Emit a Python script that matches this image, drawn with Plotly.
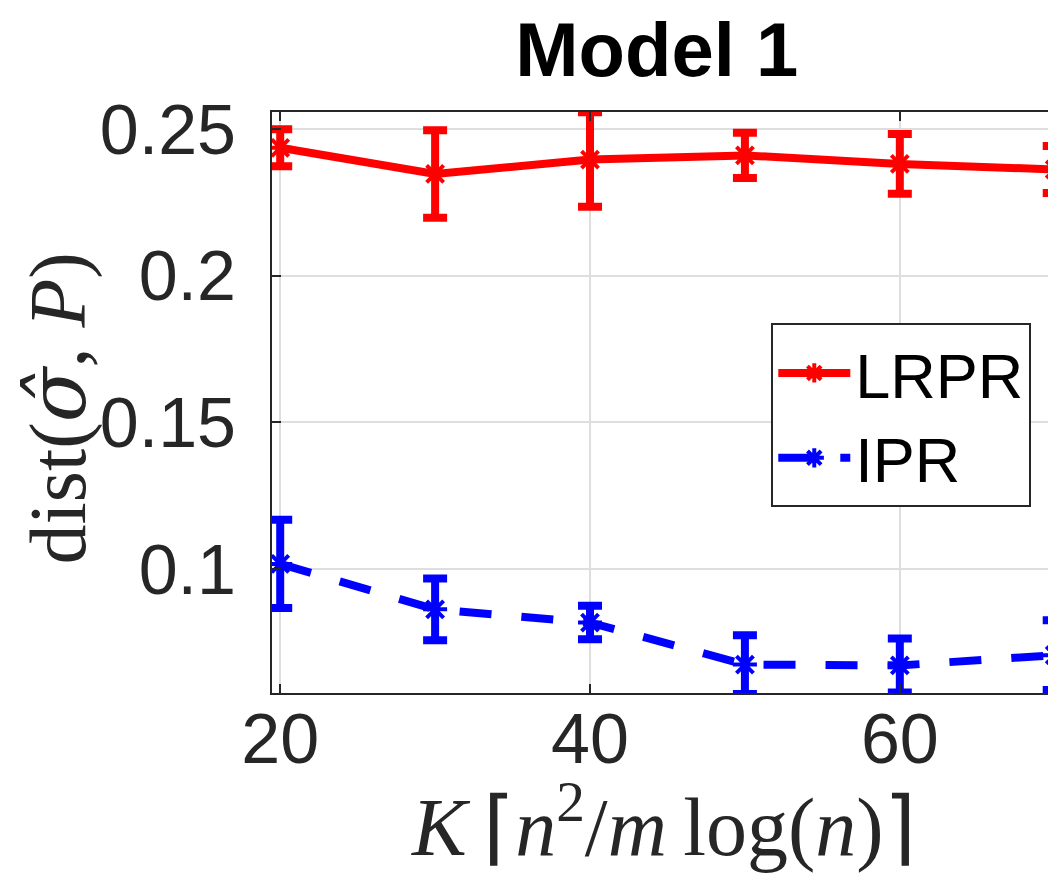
import plotly.graph_objects as go

# values
K = [20, 30, 40, 50, 60, 70]

lrpr_mean = [0.2436, 0.2347, 0.2396, 0.2410, 0.2381, 0.2362]
lrpr_err = [0.0063, 0.0149, 0.0161, 0.0077, 0.0102, 0.0080]

ipr_mean = [0.1018, 0.0863, 0.0818, 0.0675, 0.0672, 0.0707]
ipr_err = [0.0150, 0.0105, 0.0057, 0.0100, 0.0092, 0.0119]

ytick_vals = [0.1, 0.15, 0.2, 0.25]
ytick_text = ["0.1", "0.15", "0.2", "0.25"]

sans = "Liberation Sans, Arial, Helvetica, sans-serif"
serif = "Liberation Serif, Times New Roman, serif"
axis_col = "#262626"

fig = go.Figure()

fig.add_trace(go.Scatter(
    x=K, y=lrpr_mean, name="LRPR", mode="lines+markers",
    line=dict(color="#ff0000", width=8),
    marker=dict(symbol="asterisk-open", size=20, line=dict(color="#ff0000", width=4)),
    error_y=dict(type="data", array=lrpr_err, color="#ff0000", thickness=8, width=12),
))
fig.add_trace(go.Scatter(
    x=K, y=ipr_mean, name="IPR", mode="lines+markers",
    line=dict(color="#0000ff", width=8, dash="32px,30px"),
    marker=dict(symbol="asterisk-open", size=20, line=dict(color="#0000ff", width=4)),
    error_y=dict(type="data", array=ipr_err, color="#0000ff", thickness=8, width=12),
))

axis_common = dict(
    showline=True, linecolor=axis_col, linewidth=2, mirror="ticks",
    ticks="inside", ticklen=9, tickwidth=2, tickcolor=axis_col,
    showgrid=True, gridcolor="#dedede", gridwidth=2,
    zeroline=False,
    tickfont=dict(family=sans, size=70, color=axis_col),
)

fig.update_xaxes(range=[19.47, 70.47], tickvals=[20, 40, 60],
                 ticklabelstandoff=-16, **axis_common)
fig.update_yaxes(range=[0.0578, 0.2558], tickvals=ytick_vals, ticktext=ytick_text,
                 ticklabelstandoff=20, **axis_common)

fig.update_layout(
    width=1056, height=876,
    margin=dict(l=264, r=0, t=104, b=191),
    paper_bgcolor="white", plot_bgcolor="white",
    title=dict(text="<b>Model 1</b>", font=dict(family=sans, size=76, color="black"),
               xref="paper", x=0.487, xanchor="center",
               yref="container", y=0.953, yanchor="middle"),
    legend=dict(x=0.632, y=0.636, xanchor="left", yanchor="top",
                bgcolor="white", bordercolor=axis_col, borderwidth=2,
                font=dict(family=sans, size=63, color="black"),
                itemwidth=72, tracegroupgap=0),
    annotations=[
        dict(text="dist(<span style=\"font-family:DejaVu Serif\"><i>σ\u0302</i></span>, <i>P</i>)",
             xref="paper", yref="paper",
             x=-0.272, y=0.49, xanchor="center", yanchor="middle", textangle=-90,
             showarrow=False, font=dict(family=serif, size=80, color=axis_col)),
        dict(text="<i>K</i>\u2009⌈<i>n</i><sup>2</sup>/<i>m</i>\u2009log(<i>n</i>)⌉",
             xref="paper", yref="paper", x=0.495, y=-0.222,
             xanchor="center", yanchor="middle", showarrow=False,
             font=dict(family=serif, size=82, color=axis_col)),
    ],
)

fig.write_html("out.html")
